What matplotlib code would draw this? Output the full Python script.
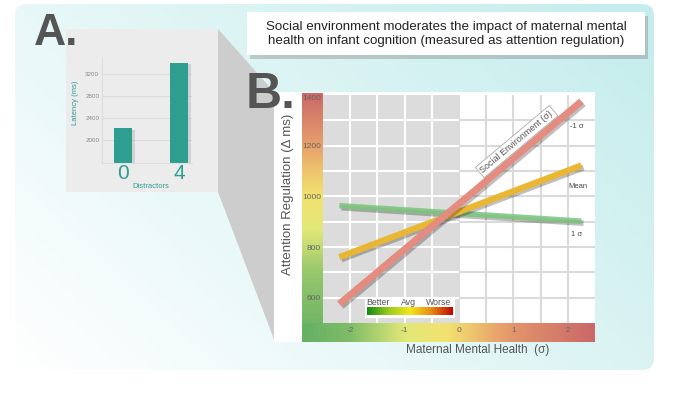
import numpy as np
import matplotlib.pyplot as plt
from matplotlib import patheffects as pe
from matplotlib.colors import LinearSegmentedColormap
from matplotlib.patches import FancyBboxPatch, Polygon, Rectangle

plt.rcParams['font.family'] = ['Liberation Sans', 'DejaVu Sans']
plt.rcParams['axes.unicode_minus'] = False

# panel A: latency by number of distractors
distractors = ['0', '4']
latency = [2210, 3400]
latency_ticks = [2000, 2400, 2800, 3200]

# panel B: simple slopes, attention regulation vs maternal mental health
mmh_ends = [-2.2, 2.25]
reg_low_env = [575, 1375]    # -1 sigma social environment
reg_mean_env = [760, 1122]   # mean
reg_high_env = [963, 902]    # +1 sigma
line_labels = ['-1 σ', 'Mean', '1 σ']
label_pos = [(2.17, 1274), (2.18, 1038), (2.17, 850)]
mmh_ticks = [-2, -1, 0, 1, 2]
reg_ticks = [600, 800, 1000, 1200, 1400]

W, H = 700, 397
TEAL = '#2E9E91'
fig = plt.figure(figsize=(7, 3.97), dpi=100)

# ---- background / decoration layer in pixel coords ----
bg = fig.add_axes([0, 0, 1, 1])
bg.axis('off')

yy, xx = np.mgrid[0:H, 0:W]
t = np.clip(0.65 * (xx - 15) / 640 + 0.4 * (370 - yy) / 365, 0, 1)
teal_bg = np.array([198, 237, 237]) / 255
img = 1 - t[..., None] * (1 - teal_bg)
im = bg.imshow(img, extent=(0, W, H, 0), aspect='auto', zorder=0)
panel = FancyBboxPatch((15, 4), 639, 366, boxstyle='round,pad=0,rounding_size=12',
                       fc='none', ec='none')
bg.add_patch(panel)
im.set_clip_path(panel)

bg.add_patch(Rectangle((66, 29), 152, 163, fc='#ECECEC', ec='none', zorder=1))
bg.add_patch(Polygon([(218, 29), (275, 93), (275, 342), (218, 192)],
                     fc='#CDCDCD', ec='none', zorder=1))
bg.add_patch(Rectangle((274, 92), 321, 250, fc='white', ec='none', zorder=1))

title_box = Rectangle((247, 12), 398, 43, fc='white', ec='none', zorder=2,
                      path_effects=[pe.SimplePatchShadow(offset=(2, -3), shadow_rgbFace='#777', alpha=0.35),
                                    pe.Normal()])
bg.add_patch(title_box)
bg.text(446, 34, 'Social environment moderates the impact of maternal mental\n'
        'health on infant cognition (measured as attention regulation)',
        ha='center', va='center', fontsize=9.6, linespacing=1.25, color='#222', zorder=3)

bg.text(34, 45, 'A.', fontsize=32, weight='bold', color='#555555', va='baseline', zorder=3)
bg.text(246, 108, 'B.', fontsize=36, weight='bold', color='#555555', va='baseline', zorder=3)

# colour bands along the axes of panel B
band_cmap = LinearSegmentedColormap.from_list('band', [
    (0.0, (100/255, 176/255, 100/255)),
    (0.35, (226/255, 232/255, 120/255)),
    (0.5, (242/255, 226/255, 112/255)),
    (0.72, (232/255, 160/255, 108/255)),
    (1.0, (202/255, 104/255, 104/255))])
ys = np.arange(93, 342)
tv = np.interp(ys, [93, 130, 165, 215, 270, 342], [1, 0.8, 0.62, 0.42, 0.15, 0])
bg.imshow(band_cmap(tv)[:, None, :], extent=(302, 323, 342, 93), aspect='auto', zorder=2)
xs = np.arange(302, 595)
th = np.interp(xs, [302, 350, 405, 460, 515, 594], [0, 0.08, 0.35, 0.55, 0.78, 1])
bg.imshow(band_cmap(th)[None, :, :], extent=(302, 595, 342, 323), aspect='auto', zorder=2)

bg.set_xlim(0, W)
bg.set_ylim(H, 0)

# ---- panel A ----
axA = fig.add_axes([102 / W, 1 - 163 / H, 90 / W, 106 / H])
axA.patch.set_alpha(0)
axA.bar([0, 1], latency, width=0.33, color=TEAL,
        path_effects=[pe.SimplePatchShadow(offset=(2, -1), shadow_rgbFace='#999', alpha=0.3), pe.Normal()])
axA.set_xlim(-0.38, 1.23)
axA.set_ylim(1580, 3500)
axA.set_yticks(latency_ticks)
axA.yaxis.grid(True, color='#DCDCDC', lw=0.8)
axA.set_axisbelow(True)
for s in ['top', 'right']:
    axA.spines[s].set_visible(False)
for s in ['left', 'bottom']:
    axA.spines[s].set_color('#DDDDDD')
    axA.spines[s].set_linewidth(0.8)
axA.set_xticks([0, 1])
axA.set_xticklabels(distractors)
axA.tick_params(axis='x', length=0, labelsize=15, labelcolor=TEAL, pad=1)
axA.tick_params(axis='y', length=0, labelsize=4.5, labelcolor='#888888', pad=2)
axA.text(0.544, -0.217, 'Distractors', transform=axA.transAxes, ha='center', va='center',
         fontsize=5.5, color=TEAL)
axA.text(-0.289, 0.566, 'Latency (ms)', transform=axA.transAxes, ha='center', va='center',
         rotation=90, fontsize=5.5, color=TEAL)

# ---- panel B ----
ax = fig.add_axes([323 / W, 1 - 323 / H, 272 / W, 228 / H])
ax.set_facecolor('white')
ax.set_xlim(-2.5, 2.5)
ax.set_ylim(500, 1400)
ax.axvspan(-2.5, 0, color='#DCDCDC', lw=0, zorder=0)
for gx in np.arange(-2, 2.01, 0.5):
    ax.axvline(gx, color='white' if gx < 0 else '#DADADA', lw=1.5, zorder=0.5)
for gy in range(600, 1400, 100):
    ax.hlines(gy, -2.5, 0, color='white', lw=1.5, zorder=0.5)
    ax.hlines(gy, 0, 2.5, color='#DADADA', lw=1.5, zorder=0.5)
for s in ax.spines.values():
    s.set_visible(False)

shadow = [pe.SimpleLineShadow(offset=(1.5, -1.5), alpha=0.25), pe.Normal()]
ax.plot(mmh_ends, reg_high_env, color='#7CC47C', lw=4, alpha=0.85, solid_capstyle='butt',
        path_effects=shadow, zorder=2)
ax.plot(mmh_ends, reg_mean_env, color='#E9B733', lw=4.5, solid_capstyle='butt',
        path_effects=shadow, zorder=3)
ax.plot(mmh_ends, reg_low_env, color='#E58C80', lw=5, solid_capstyle='butt',
        path_effects=shadow, zorder=4)
for lab, (lx, ly) in zip(line_labels, label_pos):
    ax.text(lx, ly, lab, fontsize=5.5, color='#444444', ha='center', va='center')
ax.text(1.06, 1216, 'Social Environment (σ)', rotation=40, rotation_mode='anchor',
        ha='center', va='center', fontsize=6.5, color='#555555', zorder=5,
        bbox=dict(fc='white', ec='#AAAAAA', lw=0.6, boxstyle='square,pad=0.25'))

ax.set_xticks(mmh_ticks)
ax.set_yticks(reg_ticks)
ax.tick_params(length=0, labelsize=6, labelcolor='#666666')
ax.tick_params(axis='y', pad=1.5)
ax.tick_params(axis='x', pad=3)
ax.get_yticklabels()[-1].set_va('top')
ax.text(-0.129, 0.566, 'Attention Regulation (Δ ms)', transform=ax.transAxes, rotation=90,
        ha='center', va='center', fontsize=9.5, color='#555555')
ax.text(0.57, -0.118, 'Maternal Mental Health  (σ)', transform=ax.transAxes,
        ha='center', va='center', fontsize=8.5, color='#555555')

# legend inset
ax.add_patch(Rectangle((0.154, 0.022), 0.331, 0.088, transform=ax.transAxes,
                       fc='white', ec='none', zorder=6))
for lab, lx in zip(['Better', 'Avg', 'Worse'], [0.202, 0.316, 0.426]):
    ax.text(lx, 0.09, lab, transform=ax.transAxes, ha='center', va='center',
            fontsize=6.3, color='#555555', zorder=7)
leg_cmap = LinearSegmentedColormap.from_list('leg', ['#158A15', '#9CCB1E', '#F3E61C', '#E98A12', '#BF0505'])
cax = fig.add_axes([(323 + 0.162 * 272) / W, (397 - 323 + 0.035 * 228) / H,
                    0.316 * 272 / W, 0.035 * 228 / H])
cax.set_zorder(10)
cax.imshow(np.linspace(0, 1, 200)[None, :], cmap=leg_cmap, aspect='auto')
cax.axis('off')

fig.savefig('out.png', dpi=100)
